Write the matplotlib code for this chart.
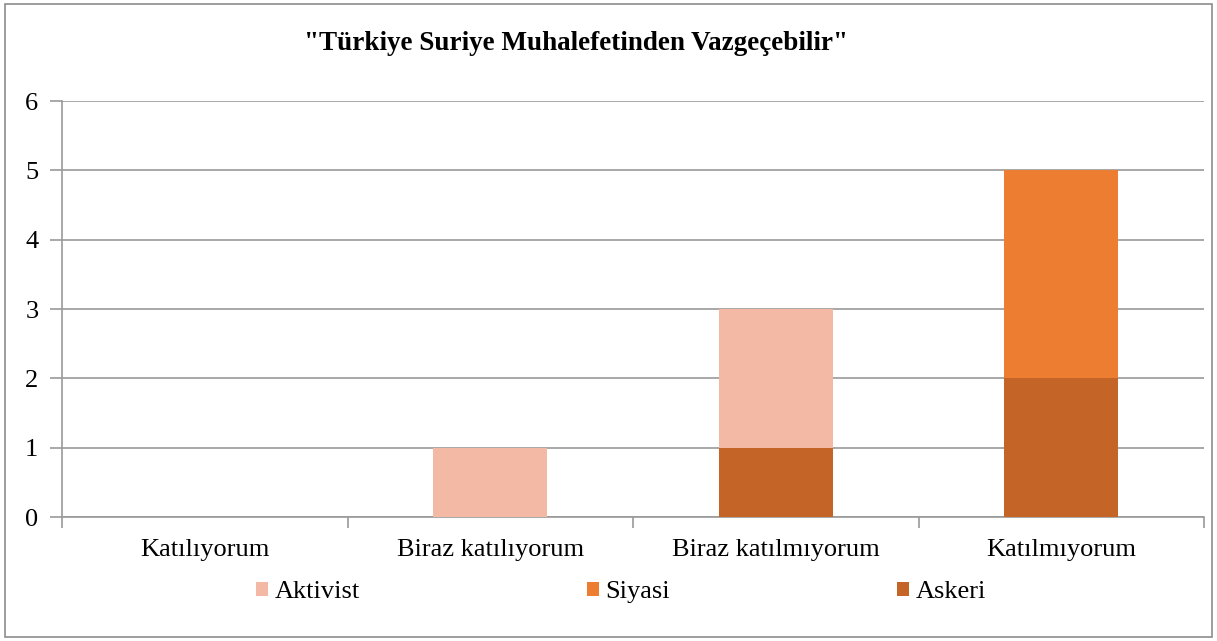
import matplotlib.pyplot as plt
from matplotlib.patches import Rectangle

categories = ["Katılıyorum", "Biraz katılıyorum", "Biraz katılmıyorum", "Katılmıyorum"]
askeri = [0, 0, 1, 2]
siyasi = [0, 0, 0, 3]
aktivist = [0, 1, 2, 0]

c_akt = "#F4B9A5"
c_siy = "#ED7D31"
c_ask = "#C46527"

plt.rcParams["font.family"] = ["Liberation Serif", "DejaVu Serif"]

fig = plt.figure(figsize=(12.17, 6.41), dpi=100)
ax = fig.add_axes([62 / 1217, 1 - 517 / 641, (1204 - 62) / 1217, (517 - 101) / 641])

x = list(range(len(categories)))
bottom2 = [a + s for a, s in zip(askeri, siyasi)]
ax.bar(x, askeri, width=0.4, color=c_ask, label="Askeri", zorder=3)
ax.bar(x, siyasi, width=0.4, bottom=askeri, color=c_siy, label="Siyasi", zorder=3)
ax.bar(x, aktivist, width=0.4, bottom=bottom2, color=c_akt, label="Aktivist", zorder=3)

ax.set_xlim(-0.5, len(categories) - 0.5)
ax.set_ylim(0, 6)
ax.set_yticks(range(7))
ax.yaxis.grid(True, color="#9a9a9a", linewidth=1.2, zorder=0)
ax.set_xticks(x)
ax.set_xticklabels(categories, fontsize=19)
ax.tick_params(axis="x", length=0, pad=16)
ax.set_xticks([i - 0.5 for i in range(len(categories) + 1)], minor=True)
ax.tick_params(axis="x", which="minor", length=8, color="#9a9a9a", width=1.2)
ax.tick_params(axis="y", length=9, color="#9a9a9a", width=1.2, labelsize=19, pad=8)
for s in ["top", "right"]:
    ax.spines[s].set_visible(False)
for s in ["left", "bottom"]:
    ax.spines[s].set_color("#9a9a9a")
    ax.spines[s].set_linewidth(1.2)

fig.text(576 / 1217, 1 - 43 / 641, '"Türkiye Suriye Muhalefetinden Vazgeçebilir"',
         ha="center", va="center", fontsize=19.5, fontweight="bold")

handles, labels = ax.get_legend_handles_labels()
order = [2, 1, 0]
fig.legend([handles[i] for i in order], [labels[i] for i in order],
           loc="center", bbox_to_anchor=(621 / 1217, 1 - 592 / 641), ncol=3,
           frameon=False, fontsize=19, handlelength=0.45, handleheight=0.45,
           handletextpad=0.25, columnspacing=8.6)

fig.patches.append(Rectangle((5 / 1217, 4 / 641), 1 - 10 / 1217, 1 - 8 / 641,
                             transform=fig.transFigure, fill=False,
                             edgecolor="#8c8c8c", linewidth=1.2))

fig.savefig("out.png", dpi=100)
